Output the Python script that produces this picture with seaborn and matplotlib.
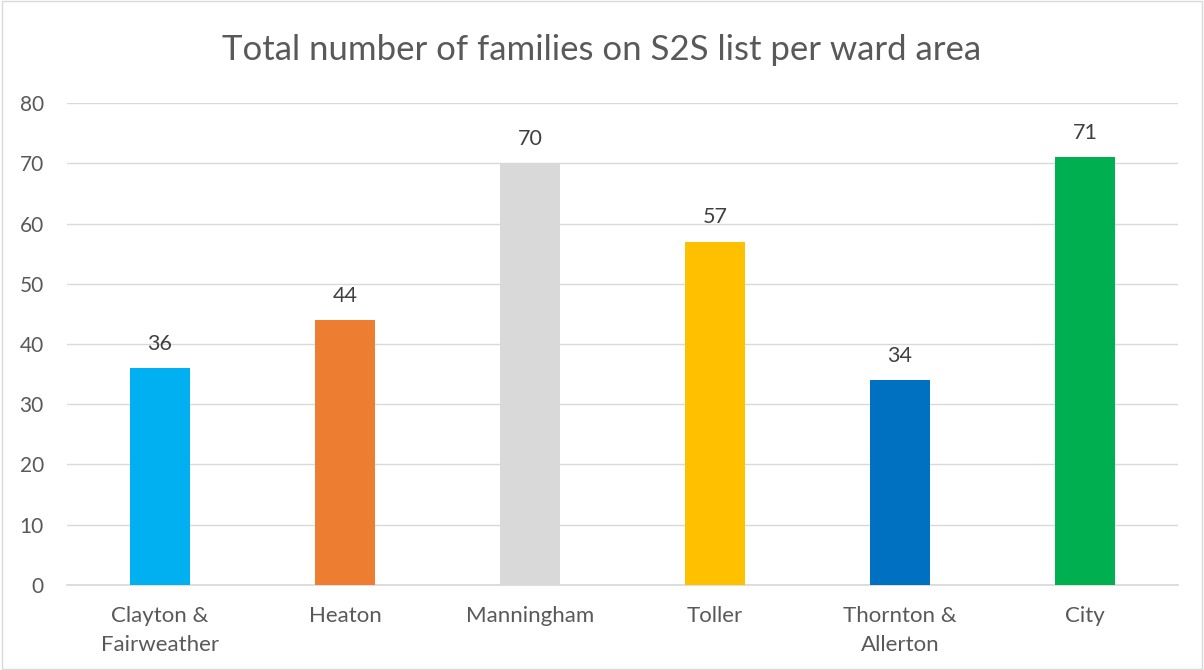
import matplotlib.pyplot as plt
import pandas as pd
import seaborn as sns

sns.set_theme(style="white")
plt.rcParams["font.family"] = ["Lato", "DejaVu Sans"]

wards = ["Clayton &\nFairweather", "Heaton", "Manningham", "Toller", "Thornton &\nAllerton", "City"]
families = [36, 44, 70, 57, 34, 71]
colours = ["#00B0F0", "#ED7D31", "#D9D9D9", "#FFC000", "#0070C0", "#00B050"]

df = pd.DataFrame({"ward": wards, "families": families})

fig = plt.figure(figsize=(12.04, 6.70), dpi=100)
ax = fig.add_axes([0.056, 0.127, 0.922, 0.719])

sns.barplot(data=df, x="ward", y="families", hue="ward", palette=colours,
            width=0.32, legend=False, saturation=1, linewidth=0, ax=ax, zorder=3)

for i, v in enumerate(families):
    ax.text(i, v + 2.4, str(v), ha="center", va="bottom", fontsize=15.5, color="#404040")

ax.set_ylim(0, 80)
ax.set_xlim(-0.5, 5.5)
ax.set_yticks(range(0, 81, 10))
ax.yaxis.grid(True, color="#D9D9D9", linewidth=1, zorder=0)
ax.set_xlabel("")
ax.set_ylabel("")
for s in ["top", "left", "right"]:
    ax.spines[s].set_visible(False)
ax.spines["bottom"].set_color("#D9D9D9")
ax.tick_params(axis="both", length=0, labelcolor="#595959")
ax.tick_params(axis="y", labelsize=15, pad=17)
ax.tick_params(axis="x", labelsize=16, pad=15)
for lab in ax.get_xticklabels():
    lab.set_linespacing(1.6)

fig.suptitle("Total number of families on S2S list per ward area", y=0.95,
             fontsize=25, color="#595959")

border = plt.Rectangle((0.002, 0.002), 0.996, 0.996, transform=fig.transFigure,
                       fill=False, edgecolor="#D9D9D9", linewidth=1)
fig.patches.append(border)

fig.savefig("out.png", dpi=100)
